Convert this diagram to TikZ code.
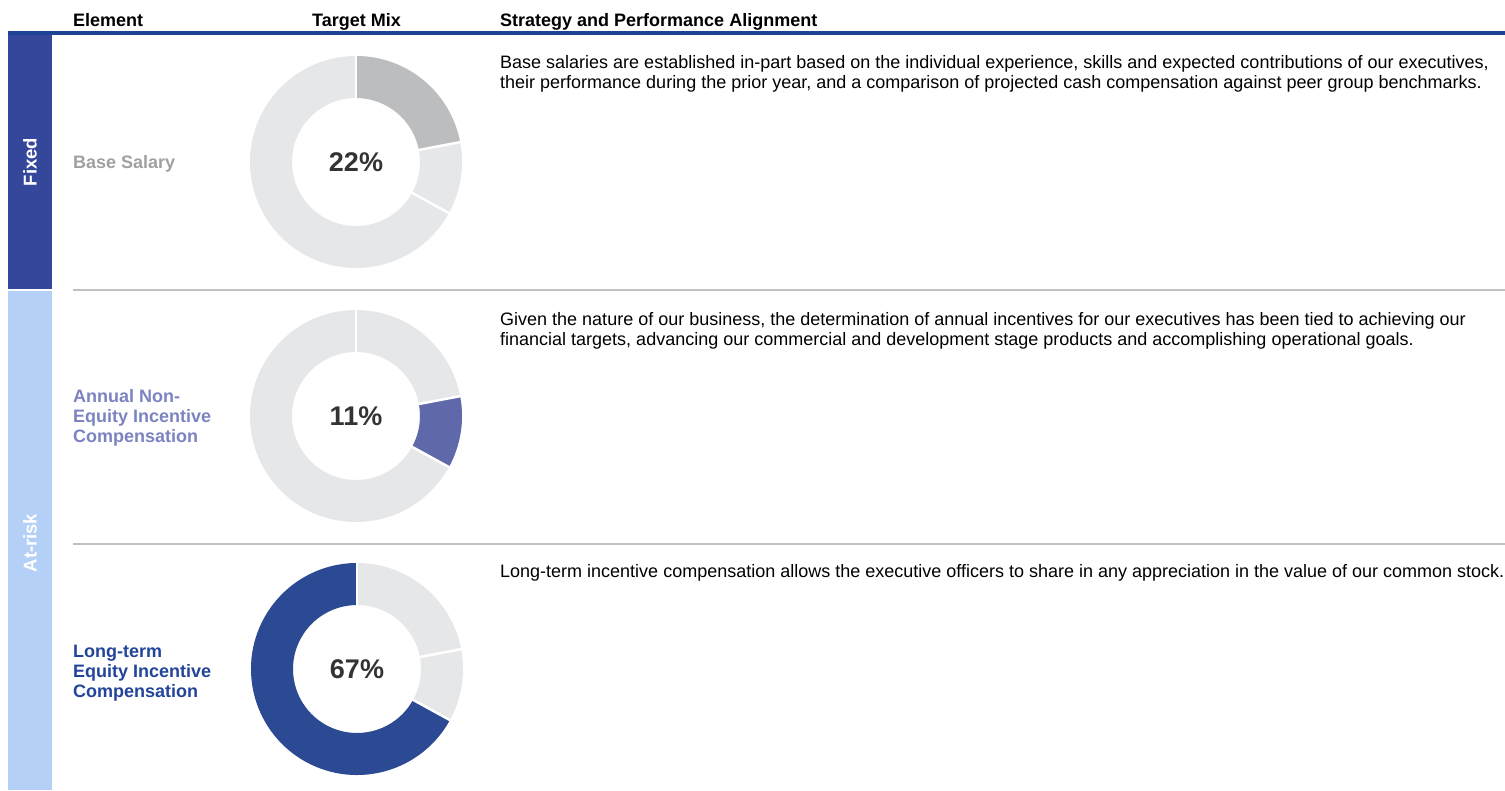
\documentclass[tikz,border=0pt]{standalone}
\usepackage{fontspec}
\setmainfont{Liberation Sans}
\usetikzlibrary{calc}
\definecolor{barfix}{HTML}{34479A}
\definecolor{barrisk}{HTML}{B4D0F7}
\definecolor{headline}{HTML}{1F4394}
\definecolor{sepline}{HTML}{C0C0C0}
\definecolor{ringgray}{HTML}{E6E7E9}
\definecolor{salgray}{HTML}{BCBDBF}
\definecolor{annblue}{HTML}{5F69AA}
\definecolor{annlabel}{HTML}{7B83C0}
\definecolor{ltblue}{HTML}{2C4A93}
\definecolor{ltlabel}{HTML}{224499}
\definecolor{pctgray}{HTML}{333333}
\definecolor{labgray}{HTML}{A0A0A0}

\begin{document}
\begin{tikzpicture}[x=1pt,y=1pt,
  head/.style={anchor=base west,inner sep=0,font=\fontsize{18}{20}\selectfont\bfseries},
  body/.style={anchor=base west,inner sep=0,font=\fontsize{18}{20}\selectfont},
  elem/.style={anchor=base west,inner sep=0,font=\fontsize{18}{20}\selectfont\bfseries},
  pct/.style={inner sep=0,text=pctgray,font=\fontsize{27}{30}\selectfont\bfseries},
  side/.style={rotate=90,inner sep=0,text=white,font=\fontsize{18.5}{20}\selectfont\bfseries},
  ring/.style={line width=42pt},
  gap/.style={white,line width=2.5pt}]
\useasboundingbox (0,0) rectangle (1505,-790);

% Intestazione

\node[head] (hel) at (73,-26) {Element};
\node[head] (hmix) at (312,-26) {Target Mix};
\node[head] (hstr) at (500,-26) {Strategy and Performance Alignment};
\fill[headline] (8,-31) rectangle (1505,-35);

% Barre laterali

\fill[barfix] (8,-35) rectangle (52,-289);
\fill[barrisk] (8,-291) rectangle (52,-790);
\node[side] (fix) at (30,-162) {Fixed};
\node[side] (risk) at (30,-543) {At-risk};

\coordinate (s1a) at (73,-290);
\coordinate (s1b) at (1505,-290);
\coordinate (s2a) at (73,-544);
\coordinate (s2b) at (1505,-544);
\draw[sepline,line width=2pt] (s1a) -- (s1b);
\draw[sepline,line width=2pt] (s2a) -- (s2b);

% Base Salary

\coordinate (c1) at (356,-162);
\draw[ring,ringgray] (c1) circle (85pt);
\draw[ring,salgray] (c1) ++(90:85pt) arc[start angle=90,end angle=10.8,radius=85pt];
\draw[gap] (c1) ++(90:60pt) -- ++(90:50pt);
\draw[gap] (c1) ++(10.8:60pt) -- ++(10.8:50pt);
\draw[gap] (c1) ++(-28.8:60pt) -- ++(-28.8:50pt);
\node[pct] (p1) at (c1) {22\%};
\node[elem,text=labgray] (e1) at (73,-168) {Base Salary};
\node[body] (t1a) at (500,-68) {Base salaries are established in-part based on the individual experience, skills and expected contributions of our executives,};
\node[body] (t1b) at (500,-88) {their performance during the prior year, and a comparison of projected cash compensation against peer group benchmarks.};

% Annual Non-Equity

\coordinate (c2) at (356,-416);
\draw[ring,ringgray] (c2) circle (85pt);
\draw[ring,annblue] (c2) ++(10.8:85pt) arc[start angle=10.8,end angle=-28.8,radius=85pt];
\draw[gap] (c2) ++(90:60pt) -- ++(90:50pt);
\draw[gap] (c2) ++(10.8:60pt) -- ++(10.8:50pt);
\draw[gap] (c2) ++(-28.8:60pt) -- ++(-28.8:50pt);
\node[pct] (p2) at (c2) {11\%};
\node[elem,text=annlabel] (e2a) at (73,-402) {Annual Non-};
\node[elem,text=annlabel] (e2b) at (73,-422) {Equity Incentive};
\node[elem,text=annlabel] (e2c) at (73,-442) {Compensation};
\node[body] (t2a) at (500,-325) {Given the nature of our business, the determination of annual incentives for our executives has been tied to achieving our};
\node[body] (t2b) at (500,-345) {financial targets, advancing our commercial and development stage products and accomplishing operational goals.};

% Long-term Equity

\coordinate (c3) at (357,-669);
\draw[ring,ringgray] (c3) circle (85pt);
\draw[ring,ltblue] (c3) ++(-28.8:85pt) arc[start angle=-28.8,end angle=-270,radius=85pt];
\draw[gap] (c3) ++(90:60pt) -- ++(90:50pt);
\draw[gap] (c3) ++(10.8:60pt) -- ++(10.8:50pt);
\draw[gap] (c3) ++(-28.8:60pt) -- ++(-28.8:50pt);
\node[pct] (p3) at (c3) {67\%};
\node[elem,text=ltlabel] (e3a) at (73,-657) {Long-term};
\node[elem,text=ltlabel] (e3b) at (73,-677) {Equity Incentive};
\node[elem,text=ltlabel] (e3c) at (73,-697) {Compensation};
\node[body] (t3a) at (500,-577) {Long-term incentive compensation allows the executive officers to share in any appreciation in the value of our common stock.};

\end{tikzpicture}
\end{document}
